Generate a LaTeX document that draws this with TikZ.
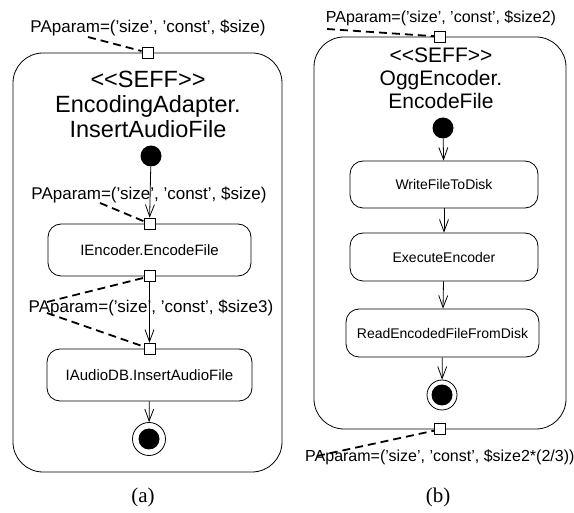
\documentclass[tikz,border=0pt]{standalone}
\usepackage{fontspec}
\setmainfont{Liberation Sans}
\newfontfamily\capfont{Liberation Serif}
\usetikzlibrary{arrows.meta,positioning}
\newcommand{\stereo}[1]{<\kern0pt<#1>\kern0pt>}

\begin{document}
\begin{tikzpicture}[x=1pt,y=-1pt]
         \tikzset{seff/.style={draw,line width=.8pt,rounded corners=30pt,inner sep=0pt}}
         \tikzset{action/.style={draw,line width=.8pt,rounded corners=13pt,minimum height=52pt,inner sep=0pt}}
         \tikzset{pin/.style={draw,fill=white,line width=.8pt,minimum size=11pt,inner sep=0pt}}
         \tikzset{initnode/.style={circle,fill=black,minimum size=21pt,inner sep=0pt}}
         \tikzset{finalnode/.style={circle,draw,line width=.8pt,inner sep=0pt,
            path picture={\fill (path picture bounding box.center) circle (10.5pt);}}}
         \tikzset{flow/.style={line width=.8pt,-{Straight Barb[length=12pt,width=9pt]}}}
         \tikzset{param/.style={line width=1.8pt,dash pattern=on 8pt off 5pt}}
         \tikzset{paramtextA/.style={font=\fontsize{17}{20}\selectfont}}
         \tikzset{paramtextB/.style={font=\fontsize{16}{19}\selectfont}}
         \useasboundingbox (0,0) rectangle (574,513);
         % (a) EncodingAdapter
         \node[seff,minimum width=269pt,minimum height=419pt] (seffA) at (147.5,262.5) {};
         \node[align=center,font=\fontsize{23.5}{25}\selectfont] (titleA) at (148,104)
            {\stereo{SEFF}\\EncodingAdapter.\\InsertAudioFile};
         \node[pin] (pinA) at (seffA.north) {};
         \node[paramtextA,anchor=base] (parA) at (148,33) {PAparam=('size', 'const', \$size)};
         \coordinate (tailA) at (88,37);
         \draw[param] (tailA) -- (pinA);
         \node[initnode] (startA) at (151,156) {};
         \node[action,minimum width=203pt,font=\fontsize{15}{18}\selectfont] (encA) at (149.5,250) {IEncoder.EncodeFile};
         \node[action,minimum width=205pt,font=\fontsize{15}{18}\selectfont] (dbA) at (149.5,375) {IAudioDB.InsertAudioFile};
         \node[pin] (encInA) at (encA.north) {};
         \node[pin] (encOutA) at (encA.south) {};
         \node[pin] (dbInA) at (dbA.north) {};
         \node[finalnode,minimum size=33pt] (stopA) at (149,439) {};
         \node[paramtextA,anchor=base] (parEncA) at (149,200) {PAparam=('size', 'const', \$size)};
         \node[paramtextA,anchor=base] (parDbA) at (151,313) {PAparam=('size', 'const', \$size3)};
         \coordinate (tailEncA) at (100,203);
         \coordinate (tailOutA) at (47,302);
         \coordinate (tailDbA) at (47,313);
         \draw[flow] (startA) -- (encInA);
         \draw[flow] (encOutA) -- (dbInA);
         \draw[flow] (dbA) -- (stopA);
         \draw[param] (tailEncA) -- (encInA);
         \draw[param] (tailOutA) -- (encOutA);
         \draw[param] (tailDbA) -- (dbInA);
         \node[font=\capfont\fontsize{21}{23}\selectfont] (capA) at (143,497) {(a)};
         % (b) OggEncoder
         \node[seff,minimum width=252pt,minimum height=392pt] (seffB) at (440,233) {};
         \node[align=center,font=\fontsize{21}{23}\selectfont] (titleB) at (441,78)
            {\stereo{SEFF}\\OggEncoder.\\EncodeFile};
         \node[pin] (pinInB) at (seffB.north) {};
         \node[pin] (pinOutB) at (seffB.south) {};
         \node[paramtextB,anchor=base] (parInB) at (441,23) {PAparam=('size', 'const', \$size2)};
         \node[paramtextB,anchor=base west,inner sep=0pt] (parOutB) at (305,462) {PAparam=('size', 'const', \$size2*(2/3))};
         \coordinate (tailInB) at (327,29);
         \coordinate (tailOutB) at (317,456);
         \draw[param] (tailInB) -- (pinInB);
         \draw[param] (tailOutB) -- (pinOutB);
         \node[initnode] (startB) at (443,128) {};
         \node[action,minimum width=188pt,minimum height=47pt,font=\fontsize{14}{17}\selectfont] (writeB) at (444,184.5) {WriteFileToDisk};
         \node[action,minimum width=188pt,minimum height=48pt,font=\fontsize{14}{17}\selectfont] (execB) at (444,257) {ExecuteEncoder};
         \node[action,minimum width=193pt,minimum height=48pt,font=\fontsize{14}{17}\selectfont] (readB) at (442.5,333) {ReadEncodedFileFromDisk};
         \node[finalnode,minimum size=30pt] (stopB) at (442,395) {};
         \draw[flow] (startB) -- (writeB);
         \draw[flow] (writeB) -- (execB);
         \draw[flow] (execB) -- (readB);
         \draw[flow] (readB) -- (stopB);
         \node[font=\capfont\fontsize{21}{23}\selectfont] (capB) at (438,497) {(b)};
\end{tikzpicture}
\end{document}
